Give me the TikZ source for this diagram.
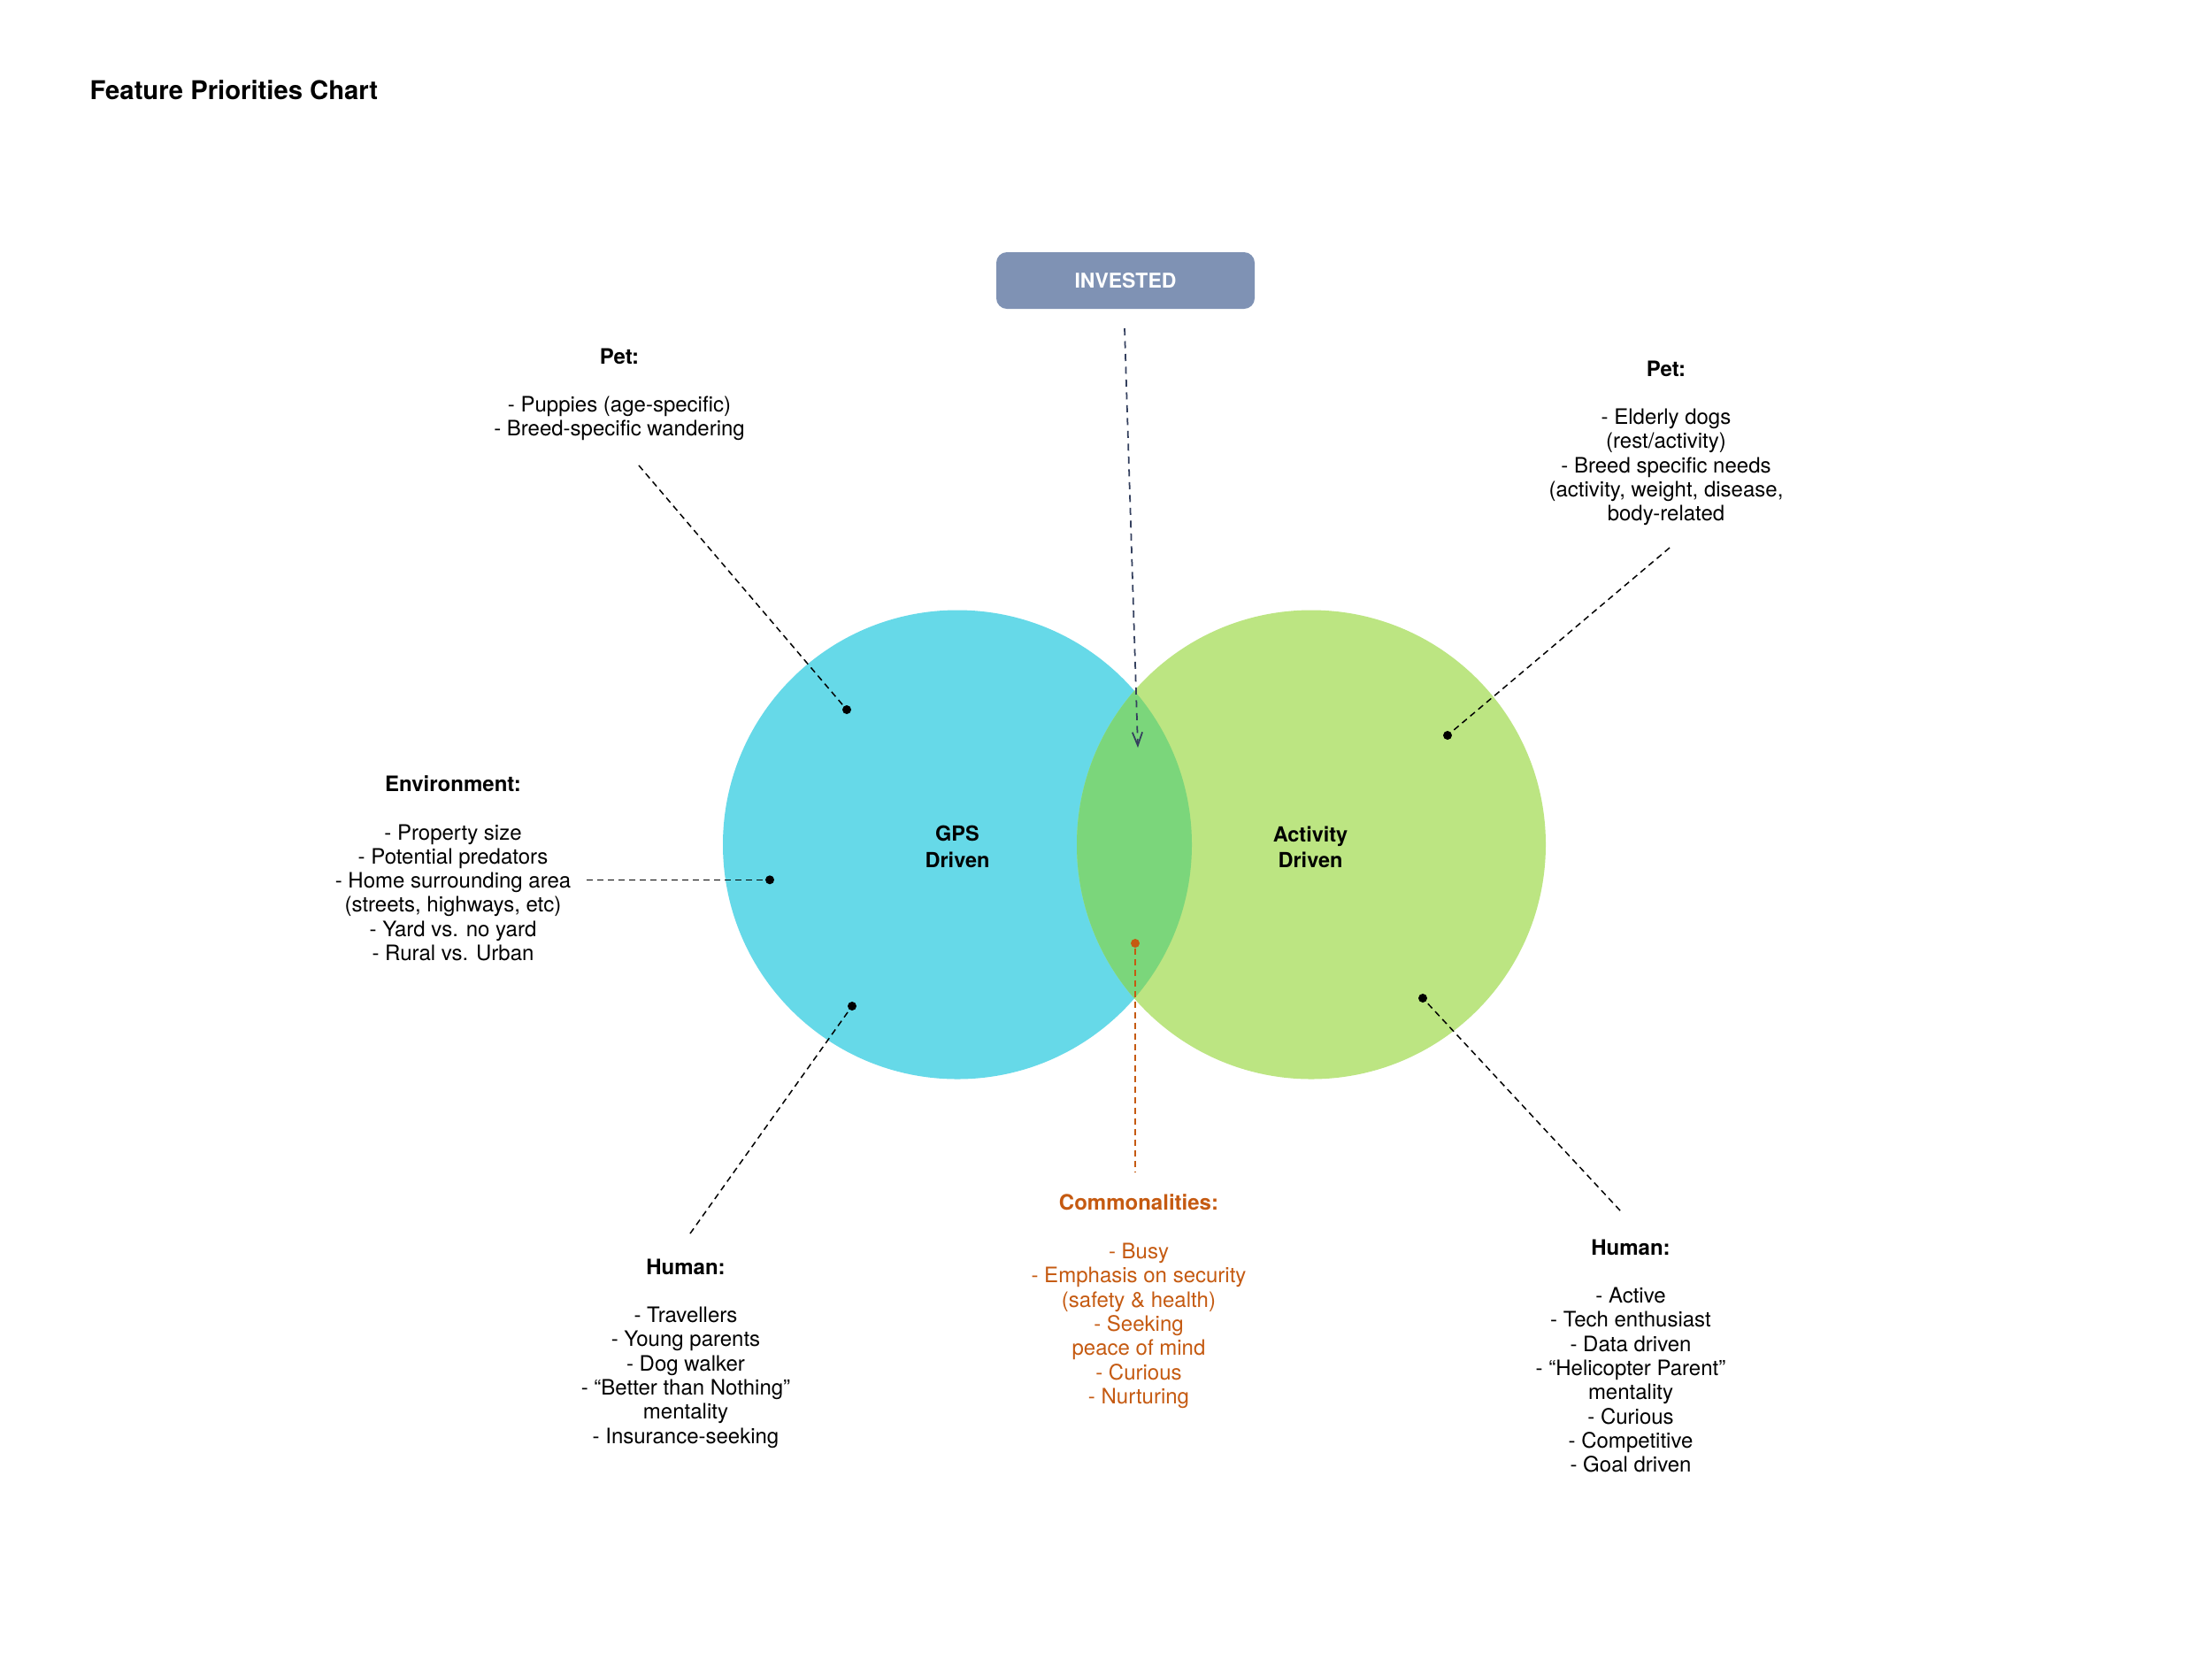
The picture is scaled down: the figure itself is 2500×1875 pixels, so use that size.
\documentclass[tikz,border=0pt]{standalone}
\usepackage{fontspec}
\setmainfont{TeX Gyre Heros}
\usetikzlibrary{arrows.meta}
\definecolor{gpsblue}{HTML}{66D9E8}
\definecolor{actgreen}{HTML}{BCE582}
\definecolor{overlapgreen}{HTML}{7BD67B}
\definecolor{investfill}{HTML}{7F92B4}
\definecolor{navyc}{HTML}{34405E}
\definecolor{orangec}{HTML}{C55A11}
\begin{document}
\begin{tikzpicture}[x=0.4pt,y=-0.4pt,
  body/.style={align=center, font=\fontsize{9.6}{10.92}\selectfont, inner sep=0pt, anchor=north},
  lead/.style={dash pattern=on 2.8pt off 2pt, line width=0.6pt},
  dot/.style={circle, fill, inner sep=0pt, minimum size=4pt},
  venn/.style={font=\bfseries\fontsize{9.4}{11.7}\selectfont, align=center, inner sep=0pt},
]
\useasboundingbox (0,0) rectangle (2500,1875);
\fill[white] (0,0) rectangle (2500,1875);

% title
\node[anchor=base west, font=\bfseries\fontsize{11.7}{14}\selectfont, inner sep=0pt] (title) at (101,112) {Feature Priorities Chart};

% circles
\coordinate (gpsc) at (1082,954.5);
\coordinate (actc) at (1482,954.5);
\fill[gpsblue] (gpsc) circle[radius=265];
\fill[actgreen] (actc) circle[radius=265];
\begin{scope}
  \clip (gpsc) circle[radius=265];
  \fill[overlapgreen] (actc) circle[radius=265];
\end{scope}
\node[venn] (gps) at (1082,957) {GPS\\Driven};
\node[venn] (act) at (1481,957) {Activity\\Driven};

% invested
\node[fill=investfill, rounded corners=4.8pt, minimum width=116.8pt, minimum height=25.6pt, text=white, font=\bfseries\fontsize{9.2}{11}\selectfont, inner sep=0pt] (invested) at (1272,317) {INVESTED};
\coordinate (invtail) at (1271,371);
\coordinate (invtip) at (1286,845);
\draw[navyc, dash pattern=on 3.2pt off 2.6pt, line width=0.7pt, -{Straight Barb[length=6pt,width=4.5pt]}] (invtail) -- (invtip);

% text blocks
\node[body] (petL) at (700,393) {\textbf{Pet:}\\[10.92pt]- Puppies (age-specific)\\- Breed-specific wandering};
\node[body] (petR) at (1883,407) {\textbf{Pet:}\\[10.92pt]- Elderly dogs\\(rest/activity)\\- Breed specific needs\\(activity, weight, disease,\\body-related};
\node[body] (env) at (512,876) {\textbf{Environment:}\\[10.92pt]- Property size\\- Potential predators\\- Home surrounding area\\(streets, highways, etc)\\- Yard vs. no yard\\- Rural vs. Urban};
\node[body] (humL) at (775,1422) {\textbf{Human:}\\[10.92pt]- Travellers\\- Young parents\\- Dog walker\\- “Better than Nothing”\\mentality\\- Insurance-seeking};
\node[body, text=orangec] (com) at (1287,1349.5) {\textbf{Commonalities:}\\[10.92pt]- Busy\\- Emphasis on security\\(safety \& health)\\- Seeking\\peace of mind\\- Curious\\- Nurturing};
\node[body] (humR) at (1843,1400) {\textbf{Human:}\\[10.92pt]- Active\\- Tech enthusiast\\- Data driven\\- “Helicopter Parent”\\mentality\\- Curious\\- Competitive\\- Goal driven};

% leader lines
\node[dot] (petLdot) at (957,802) {};
\coordinate (petLend) at (722,526);
\draw[lead] (petLend) -- (petLdot);

\node[dot] (petRdot) at (1636,831) {};
\coordinate (petRend) at (1887,619);
\draw[lead] (petRend) -- (petRdot);

\node[dot] (envdot) at (870,994.3) {};
\coordinate (envend) at (663,994.3);
\draw[lead] (envend) -- (envdot);

\node[dot] (humLdot) at (963,1137) {};
\coordinate (humLend) at (780,1394);
\draw[lead] (humLend) -- (humLdot);

\node[dot] (humRdot) at (1608,1128) {};
\coordinate (humRend) at (1831,1368);
\draw[lead] (humRend) -- (humRdot);

\node[dot, fill=orangec] (comdot) at (1283,1066) {};
\coordinate (comend) at (1283,1324);
\draw[lead, orangec] (comdot) -- (comend);
\end{tikzpicture}
\end{document}
